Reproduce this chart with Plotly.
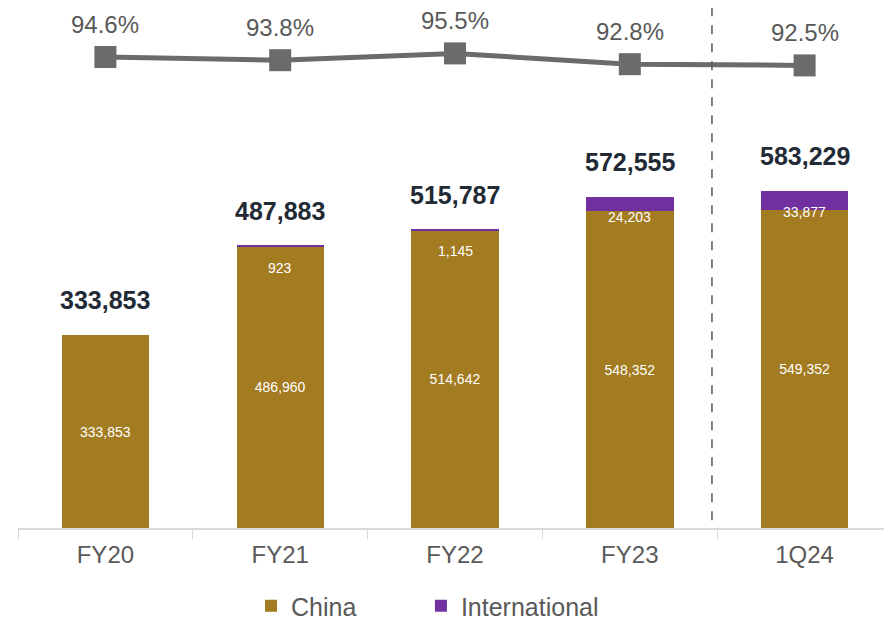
import plotly.graph_objects as go

categories = ["FY20", "FY21", "FY22", "FY23", "1Q24"]
china = [333853, 486960, 514642, 548352, 549352]
international = [0, 923, 1145, 24203, 33877]
totals = [333853, 487883, 515787, 572555, 583229]
pct = [94.6, 93.8, 95.5, 92.8, 92.5]

GOLD = "#A37B20"
PURPLE = "#7030A0"
GREY = "#6B6B6B"
TEXT = "#595959"
FONT = "Liberation Sans, Arial, sans-serif"

fig = go.Figure()

fig.add_trace(go.Bar(
    x=categories, y=china, name="China",
    marker=dict(color=GOLD, line=dict(width=0)),
    text=[f"{v:,}" for v in china],
    textposition="inside", insidetextanchor="middle",
    textfont=dict(color="white", size=14, family=FONT),
    legend="legend",
))
fig.add_trace(go.Bar(
    x=categories, y=international, name="International",
    marker=dict(color=PURPLE, line=dict(width=0)),
    legend="legend2",
))
fig.add_trace(go.Scatter(
    x=categories, y=pct, yaxis="y2", mode="lines+markers",
    line=dict(color=GREY, width=5),
    marker=dict(symbol="square", size=22, color=GREY),
    showlegend=False, hoverinfo="skip",
))

# total labels above bars
for c, t in zip(categories, totals):
    fig.add_annotation(x=c, y=t, yref="y", text=f"<b>{t:,}</b>", showarrow=False,
                       yshift=35, font=dict(size=25, color="#222A35", family=FONT))

# international segment labels (manually nudged like the original)
intl_shift = [0, -21, -20, -6, -2]
for c, ch, v, s in zip(categories, china, international, intl_shift):
    if v:
        fig.add_annotation(x=c, y=ch, yref="y", text=f"{v:,}", showarrow=False,
                           yshift=s, font=dict(size=14, color="white", family=FONT))

# percentage labels above line markers
for c, p in zip(categories, pct):
    fig.add_annotation(x=c, y=p, yref="y2", text=f"{p}%", showarrow=False,
                       yshift=33, font=dict(size=24, color=TEXT, family=FONT))

fig.add_shape(type="line", xref="x", yref="paper", x0=3.47, x1=3.47, y0=0.015, y1=1,
              line=dict(color="#595959", width=1.5, dash="dash"))

legend_style = dict(orientation="h", y=-0.15, yanchor="middle",
                    font=dict(size=25, color=TEXT), itemwidth=30,
                    bgcolor="rgba(0,0,0,0)")

# page body adds an 8px offset, so the figure is sized 884 wide
fig.update_layout(
    width=884, height=630,
    barmode="stack", bargap=0.5,
    plot_bgcolor="white", paper_bgcolor="white",
    margin=dict(l=10, r=0, t=0, b=110),
    font=dict(family=FONT, color=TEXT),
    xaxis=dict(
        showline=True, linecolor="#D9D9D9", linewidth=1.5,
        ticks="outside", tickson="boundaries", ticklen=9, tickcolor="#D9D9D9",
        tickfont=dict(size=24, color=TEXT), range=[-0.5, 4.5],
        ticklabelstandoff=4, automargin=False,
    ),
    yaxis=dict(range=[0, 899600], visible=False, showgrid=False),
    yaxis2=dict(range=[-23.15, 106.85], overlaying="y", visible=False, showgrid=False),
    legend=dict(x=0.2666, xanchor="left", **legend_style),
    legend2=dict(x=0.461, xanchor="left", **legend_style),
    showlegend=True,
)

fig.write_html("out.html")
